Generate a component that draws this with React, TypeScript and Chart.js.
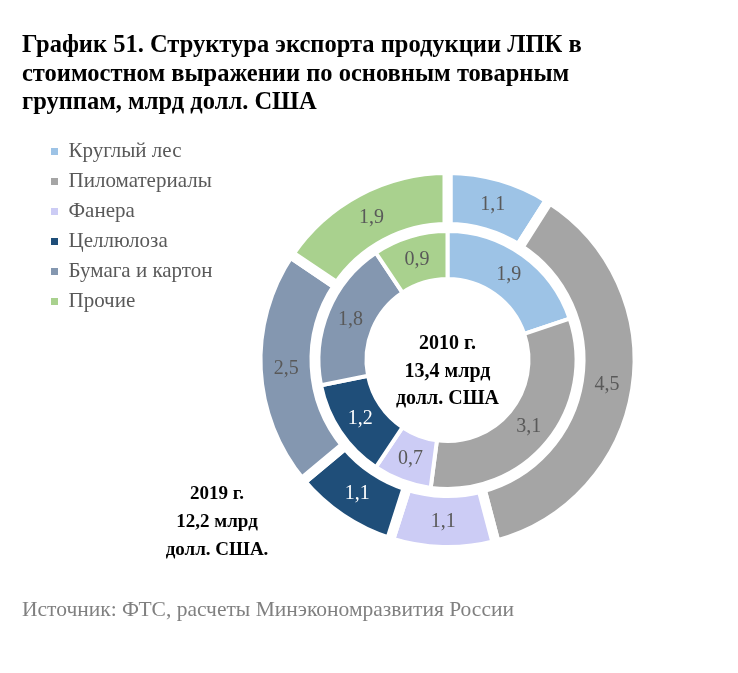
import React, { useEffect, useRef } from "react";
import { Chart, registerables, DoughnutController } from "chart.js";

Chart.register(...registerables);

const categories = ["Круглый лес", "Пиломатериалы", "Фанера", "Целлюлоза", "Бумага и картон", "Прочие"];
const values2019 = [1.1, 4.5, 1.1, 1.1, 2.5, 1.9];
const values2010 = [1.9, 3.1, 0.7, 1.2, 1.8, 0.9];
const colors = ["#9DC3E6", "#A5A5A5", "#CCCCF5", "#1F4E79", "#8497B0", "#A9D18E"];
const labelColors = ["#595959", "#595959", "#595959", "#FFFFFF", "#595959", "#595959"];

const titleLines = [
  "График 51. Структура экспорта продукции ЛПК в",
  "стоимостном выражении по основным товарным",
  "группам, млрд долл. США",
];
const centerLines = ["2010 г.", "13,4 млрд", "долл. США"];
const outerLines = ["2019 г.", "12,2 млрд", "долл. США."];
const sourceText = "Источник: ФТС, расчеты Минэкономразвития России";

const SERIF = "'Liberation Serif', 'Times New Roman', serif";
const LEGEND_W = 200;
const OUTER_R = 190;
const HOLE_R = 81;

const fmt = (v: number) => v.toFixed(1).replace(".", ",");

const legendWidthPlugin = {
  id: "legendWidth",
  beforeLayout(chart: any) {
    const lg = chart.legend;
    if (lg && !lg._patchedW) {
      const orig = lg.fit.bind(lg);
      lg.fit = function () {
        orig();
        this.width = LEGEND_W;
      };
      lg._patchedW = true;
    }
  },
};

const valueLabelsPlugin = {
  id: "valueLabels",
  afterDatasetsDraw(chart: any) {
    const ctx = chart.ctx;
    ctx.save();
    ctx.font = `20px ${SERIF}`;
    ctx.textAlign = "center";
    ctx.textBaseline = "middle";
    [0, 2].forEach((di) => {
      const meta = chart.getDatasetMeta(di);
      const data = chart.data.datasets[di].data as number[];
      meta.data.forEach((arc: any, i: number) => {
        const p = arc.tooltipPosition();
        ctx.fillStyle = labelColors[i];
        ctx.fillText(fmt(data[i]), p.x, p.y);
      });
    });
    ctx.restore();
  },
};

export default function App() {
  const ref = useRef<HTMLCanvasElement | null>(null);

  useEffect(() => {
    if (!ref.current) return;
    const defaultGen = (DoughnutController as any).overrides.plugins.legend.labels.generateLabels;
    const chart = new Chart(ref.current, {
      type: "doughnut",
      data: {
        labels: categories,
        datasets: [
          {
            data: values2019,
            backgroundColor: colors,
            borderColor: "#FFFFFF",
            borderWidth: 10,
            weight: 57,
          } as any,
          {
            data: [1],
            backgroundColor: "rgba(0,0,0,0)",
            borderWidth: 0,
            weight: 4,
          } as any,
          {
            data: values2010,
            backgroundColor: colors,
            borderColor: "#FFFFFF",
            borderWidth: 4,
            weight: 48,
          } as any,
        ],
      },
      options: {
        animation: false,
        responsive: true,
        maintainAspectRatio: false,
        events: [],
        radius: OUTER_R,
        cutout: `${(HOLE_R / OUTER_R) * 100}%`,
        layout: { padding: { left: 42, top: 132, right: 85, bottom: 85 } },
        plugins: {
          tooltip: { enabled: false },
          legend: {
            display: true,
            position: "left",
            align: "start",
            labels: {
              boxWidth: 7,
              boxHeight: 7,
              padding: 9,
              color: "#595959",
              font: { family: SERIF, size: 21 },
              generateLabels: (c: any) =>
                defaultGen(c).map((l: any) => ({ ...l, lineWidth: 0, strokeStyle: "rgba(0,0,0,0)" })),
            },
          },
        },
      } as any,
      plugins: [legendWidthPlugin, valueLabelsPlugin],
    });
    return () => chart.destroy();
  }, []);

  const boldText = { fontFamily: SERIF, fontWeight: 700, color: "#000" } as const;

  return (
    <div style={{ position: "fixed", left: 0, top: 0, width: 738, height: 673, background: "#fff" }}>
      <div style={{ position: "absolute", left: 0, top: 0, width: 738, height: 673 }}>
        <canvas ref={ref} />
      </div>
      <div
        style={{
          ...boldText,
          position: "absolute",
          left: 22,
          top: 30,
          fontSize: 24.5,
          lineHeight: "28.5px",
          whiteSpace: "nowrap",
        }}
      >
        {titleLines.map((t, i) => (
          <div key={i}>{t}</div>
        ))}
      </div>
      <div
        style={{
          ...boldText,
          position: "absolute",
          left: 347.5,
          width: 200,
          top: 329,
          fontSize: 20,
          lineHeight: "27.5px",
          textAlign: "center",
        }}
      >
        {centerLines.map((t, i) => (
          <div key={i}>{t}</div>
        ))}
      </div>
      <div
        style={{
          ...boldText,
          position: "absolute",
          left: 117,
          width: 200,
          top: 479,
          fontSize: 19,
          lineHeight: "28px",
          textAlign: "center",
        }}
      >
        {outerLines.map((t, i) => (
          <div key={i}>{t}</div>
        ))}
      </div>
      <div
        style={{
          position: "absolute",
          left: 22,
          top: 597,
          fontFamily: SERIF,
          fontSize: 21.5,
          lineHeight: "24px",
          color: "#808080",
          whiteSpace: "nowrap",
        }}
      >
        {sourceText}
      </div>
    </div>
  );
}
